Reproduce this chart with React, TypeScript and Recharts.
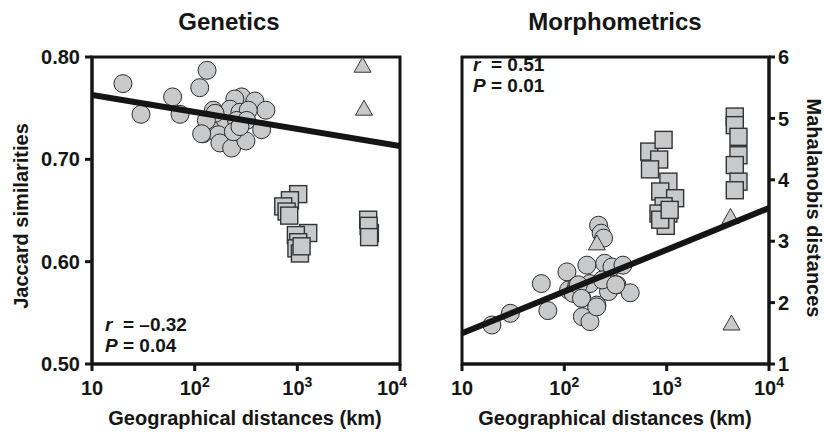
import React from 'react';
import { Label, ReferenceArea, Scatter, ScatterChart, XAxis, YAxis } from 'recharts';

// tick labels (log x axis, shown as powers of ten)
const xTicks = [10, 100, 1000, 10000];
const xTickBase = ['10', '10', '10', '10'];
const xTickExp = ['', '2', '3', '4'];
const geneYTicks = [0.5, 0.6, 0.7, 0.8];
const morphYTicks = [1, 2, 3, 4, 5, 6];

// Genetics panel (distance km, Jaccard similarity)
const geneCircleX = [20, 30, 61, 72, 112, 132, 287, 386, 494, 246, 152, 221, 276, 333, 152, 190, 256, 321, 449, 121, 141, 170, 176, 229, 316, 238, 276, 158, 130, 117];
const geneCircleY = [0.774, 0.744, 0.761, 0.744, 0.77, 0.787, 0.761, 0.757, 0.748, 0.759, 0.748, 0.749, 0.746, 0.748, 0.738, 0.735, 0.738, 0.738, 0.729, 0.725, 0.73, 0.724, 0.716, 0.711, 0.718, 0.727, 0.732, 0.745, 0.738, 0.725];
const geneTriangleX = [220, 4320, 4460];
const geneTriangleY = [0.751, 0.79, 0.748];
const geneSquareX = [1020, 847, 729, 786, 834, 1277, 968, 1020, 980, 1060, 1100, 4900, 5090, 4950, 5000];
const geneSquareY = [0.666, 0.66, 0.654, 0.649, 0.645, 0.628, 0.626, 0.619, 0.613, 0.608, 0.615, 0.641, 0.628, 0.635, 0.624];
const geneFitX = [10, 10000];
const geneFitY = [0.763, 0.713];

// Morphometrics panel (distance km, Mahalanobis distance)
const morphCircleX = [19.6, 29.7, 59.6, 69, 106, 110, 132, 148, 150, 178, 208, 166, 178, 216, 229, 242, 248, 292, 270, 327, 374, 440, 122, 137, 147, 207, 235, 318];
const morphCircleY = [1.635, 1.826, 2.31, 1.87, 2.5, 2.205, 2.27, 2.07, 1.77, 1.69, 1.96, 2.61, 2.31, 3.26, 3.13, 3.05, 2.64, 2.58, 2.18, 2.29, 2.61, 2.16, 2.15, 2.29, 2.07, 1.93, 2.37, 2.29];
const morphTriangleX = [208, 4210, 4300];
const morphTriangleY = [2.94, 3.37, 1.635];
const morphSquareX = [676, 933, 845, 687, 1040, 865, 1210, 933, 1040, 832, 980, 865, 1070, 4630, 4630, 5030, 5030, 4630, 5030, 4630];
const morphSquareY = [4.46, 4.65, 4.33, 4.17, 3.97, 3.81, 3.7, 3.57, 3.45, 3.45, 3.25, 3.35, 3.51, 5.03, 4.89, 4.7, 4.4, 4.24, 3.97, 3.83];
const morphFitX = [10, 10000];
const morphFitY = [1.5, 3.54];

const zip = (xs: number[], ys: number[]) => xs.map((x, i) => ({ x, y: ys[i] }));

const FILL = '#c8c9cb';
const INK = '#151515';
const FONT = '"Liberation Sans", Arial, Helvetica, sans-serif';

const circleShape = (p: any) => (
  <circle cx={p.cx} cy={p.cy} r={9} fill={FILL} stroke="#2b2b2b" strokeWidth={1} />
);
const squareShape = (p: any) => (
  <rect x={p.cx - 8.5} y={p.cy - 8.5} width={17} height={17} fill={FILL} stroke="#333" strokeWidth={1.4} />
);
const triangleShape = (p: any) => (
  <path
    d={`M${p.cx},${p.cy - 10} L${p.cx + 8.5},${p.cy + 5} L${p.cx - 8.5},${p.cy + 5} Z`}
    fill={FILL}
    stroke="#333"
    strokeWidth={1}
  />
);
const noShape = () => <g />;

function XTick({ x, y, payload }: any) {
  const i = xTicks.indexOf(payload.value);
  return (
    <text x={x} y={y} dy={14} textAnchor="middle" fontSize={20} fontWeight="bold" fill={INK}>
      <tspan>{xTickBase[i]}</tspan>
      {xTickExp[i] && (
        <tspan dy={-8} fontSize={14}>
          {xTickExp[i]}
        </tspan>
      )}
    </text>
  );
}

const tickStyle = { fontSize: 20, fontWeight: 'bold', fill: INK } as any;

function xLabel(cx: number) {
  return () => (
    <text x={cx} y={425} textAnchor="middle" fontSize={20} fontWeight="bold" fill={INK}>
      Geographical distances (km)
    </text>
  );
}

function Stat({ left, top, r, p }: { left: number; top: number; r: string; p: string }) {
  const line = { fontSize: 19, fontWeight: 'bold' as const, lineHeight: '21px', whiteSpace: 'pre' as const };
  return (
    <div style={{ position: 'absolute', left, top, color: INK }}>
      <div style={line}>
        <i>r</i>{'  = '}{r}
      </div>
      <div style={line}>
        <i>P</i>{' = '}{p}
      </div>
    </div>
  );
}

function Title({ cx, text }: { cx: number; text: string }) {
  return (
    <div
      style={{
        position: 'absolute',
        left: cx - 150,
        width: 300,
        top: 10,
        textAlign: 'center',
        fontSize: 24,
        fontWeight: 'bold',
        lineHeight: '24px',
        color: INK,
      }}
    >
      {text}
    </div>
  );
}

export default function App() {
  return (
    <div
      style={{
        position: 'absolute',
        left: 0,
        top: 0,
        width: 824,
        height: 433,
        background: '#fff',
        fontFamily: FONT,
        overflow: 'hidden',
      }}
    >
      <div style={{ position: 'absolute', left: 0, top: 0 }}>
        <ScatterChart width={412} height={433} margin={{ top: 57, right: 12, bottom: 0, left: 0 }}>
          <XAxis
            type="number"
            dataKey="x"
            scale="log"
            domain={[10, 10000]}
            ticks={xTicks}
            allowDataOverflow
            height={69}
            tickSize={7}
            tickMargin={10}
            tick={<XTick />}
            axisLine={{ stroke: INK, strokeWidth: 3 }}
            tickLine={{ stroke: INK, strokeWidth: 3 }}
          >
            <Label content={xLabel(245)} />
          </XAxis>
          <YAxis
            type="number"
            dataKey="y"
            domain={[0.5, 0.8]}
            ticks={geneYTicks}
            allowDataOverflow
            width={92}
            tickSize={7}
            tickMargin={5}
            tick={tickStyle}
            tickFormatter={(v: number) => v.toFixed(2)}
            axisLine={{ stroke: INK, strokeWidth: 3 }}
            tickLine={{ stroke: INK, strokeWidth: 3 }}
          >
            <Label
              content={() => (
                <text
                  x={21}
                  y={216}
                  transform="rotate(-90 21 216)"
                  textAnchor="middle"
                  dominantBaseline="central"
                  fontSize={20}
                  fontWeight="bold"
                  fill={INK}
                >
                  Jaccard similarities
                </text>
              )}
            />
          </YAxis>
          <ReferenceArea x1={10} x2={10000} y1={0.5} y2={0.8} fill="none" stroke={INK} strokeWidth={3} />
          <Scatter data={zip(geneTriangleX, geneTriangleY)} shape={triangleShape} isAnimationActive={false} />
          <Scatter data={zip(geneCircleX, geneCircleY)} shape={circleShape} isAnimationActive={false} />
          <Scatter data={zip(geneSquareX, geneSquareY)} shape={squareShape} isAnimationActive={false} />
          <Scatter
            data={zip(geneFitX, geneFitY)}
            shape={noShape}
            line={{ stroke: INK, strokeWidth: 6 }}
            stroke={INK}
            isAnimationActive={false}
          />
        </ScatterChart>
      </div>

      <div style={{ position: 'absolute', left: 412, top: 0 }}>
        <ScatterChart width={412} height={433} margin={{ top: 57, right: 0, bottom: 0, left: 50 }}>
          <XAxis
            type="number"
            dataKey="x"
            scale="log"
            domain={[10, 10000]}
            ticks={xTicks}
            allowDataOverflow
            height={69}
            tickSize={7}
            tickMargin={10}
            tick={<XTick />}
            axisLine={{ stroke: INK, strokeWidth: 3 }}
            tickLine={{ stroke: INK, strokeWidth: 3 }}
          >
            <Label content={xLabel(203)} />
          </XAxis>
          <YAxis
            type="number"
            dataKey="y"
            orientation="right"
            domain={[1, 6]}
            ticks={morphYTicks}
            allowDataOverflow
            width={55}
            tickSize={6}
            tickMargin={3}
            tick={tickStyle}
            axisLine={{ stroke: INK, strokeWidth: 3 }}
            tickLine={{ stroke: INK, strokeWidth: 3 }}
          >
            <Label
              content={() => (
                <text
                  x={402}
                  y={208}
                  transform="rotate(90 402 208)"
                  textAnchor="middle"
                  dominantBaseline="central"
                  fontSize={20}
                  fontWeight="bold"
                  fill={INK}
                >
                  Mahalanobis distances
                </text>
              )}
            />
          </YAxis>
          <ReferenceArea x1={10} x2={10000} y1={1} y2={6} fill="none" stroke={INK} strokeWidth={3} />
          <Scatter data={zip(morphCircleX, morphCircleY)} shape={circleShape} isAnimationActive={false} />
          <Scatter data={zip(morphTriangleX, morphTriangleY)} shape={triangleShape} isAnimationActive={false} />
          <Scatter data={zip(morphSquareX, morphSquareY)} shape={squareShape} isAnimationActive={false} />
          <Scatter
            data={zip(morphFitX, morphFitY)}
            shape={noShape}
            line={{ stroke: INK, strokeWidth: 6 }}
            stroke={INK}
            isAnimationActive={false}
          />
        </ScatterChart>
      </div>

      <Title cx={229} text="Genetics" />
      <Title cx={615} text="Morphometrics" />
      <Stat left={105} top={314} r="–0.32" p="0.04" />
      <Stat left={473} top={54} r="0.51" p="0.01" />
    </div>
  );
}
